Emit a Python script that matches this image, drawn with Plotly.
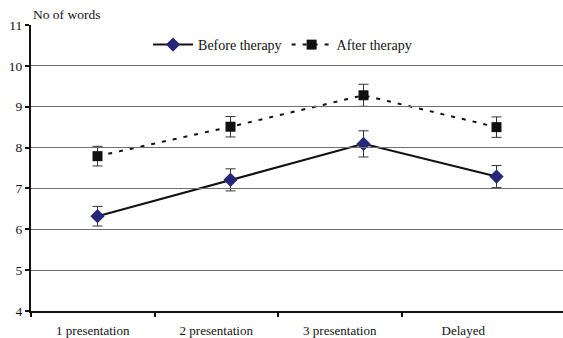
import plotly.graph_objects as go

categories = ["1 presentation", "2 presentation", "3 presentation", "Delayed"]
before = [6.32, 7.21, 8.09, 7.29]
before_err = [0.24, 0.27, 0.32, 0.27]
after = [7.79, 8.51, 9.28, 8.50]
after_err = [0.24, 0.25, 0.27, 0.25]
y_ticks = [4, 5, 6, 7, 8, 9, 10, 11]

FONT = "Liberation Serif, Times New Roman, serif"
idx = list(range(len(categories)))

fig = go.Figure()
# invisible helper traces so the tick/label axes are drawn
for ax in ("x2", "x3"):
    fig.add_trace(go.Scatter(x=idx, y=before, xaxis=ax, yaxis="y", mode="markers",
                             marker=dict(opacity=0), showlegend=False, hoverinfo="skip"))
fig.add_trace(go.Scatter(
    x=idx, y=before, name="Before therapy", mode="lines+markers",
    line=dict(color="#111111", width=2),
    marker=dict(symbol="diamond", size=11, color="#27277a"),
    error_y=dict(type="data", array=before_err, color="#333333", thickness=1, width=5),
))
fig.add_trace(go.Scatter(
    x=idx, y=after, name="After therapy", mode="lines+markers",
    line=dict(color="#111111", width=2, dash="4px,7px"),
    marker=dict(symbol="square", size=10, color="#111111"),
    error_y=dict(type="data", array=after_err, color="#333333", thickness=1, width=5),
))

fig.update_layout(
    width=563, height=338,
    margin=dict(l=31, r=0, t=25, b=27),
    paper_bgcolor="white", plot_bgcolor="rgba(0,0,0,0)",
    font=dict(family=FONT, size=13, color="#111111"),
    showlegend=True,
    legend=dict(orientation="h", x=0.22, xanchor="left", y=0.93, yanchor="middle",
                font=dict(family=FONT, size=14), bgcolor="rgba(0,0,0,0)",
                itemwidth=40, tracegroupgap=0),
    xaxis=dict(range=[-0.5, 3.5], showgrid=False, zeroline=False,
               showticklabels=False, ticks="", automargin=False,
               showline=True, linecolor="#111111", linewidth=2),
    xaxis2=dict(domain=[0, 0.9286], anchor="y", range=[-0.5, 3.5],
                tickvals=[-0.5, 0.5, 1.5, 2.5], ticktext=["", "", "", ""],
                ticks="outside", ticklen=5, tickwidth=2, tickcolor="#111111",
                showgrid=False, zeroline=False, showline=False, automargin=False),
    xaxis3=dict(domain=[0, 0.9286], anchor="y", range=[-0.5, 3.5],
                tickvals=idx, ticktext=categories, ticks="", ticklabelstandoff=10,
                tickfont=dict(family=FONT, size=13, color="#111111"),
                showgrid=False, zeroline=False, showline=False, automargin=False),
    yaxis=dict(range=[4, 11], tickvals=y_ticks, showgrid=True,
               gridcolor="#6e6e6e", gridwidth=1, zeroline=False, automargin=False,
               ticks="outside", ticklen=4, tickwidth=2, tickcolor="#111111",
               showline=True, linecolor="#111111", linewidth=2,
               tickfont=dict(family=FONT, size=13.5, color="#111111")),
    annotations=[dict(text="No of words", xref="paper", yref="paper",
                      x=0, y=1.038, xanchor="left", yanchor="middle",
                      showarrow=False, font=dict(family=FONT, size=13.5))],
)

fig.write_html("out.html", config={"displayModeBar": False},
               post_script="document.body.style.margin='0px';")
